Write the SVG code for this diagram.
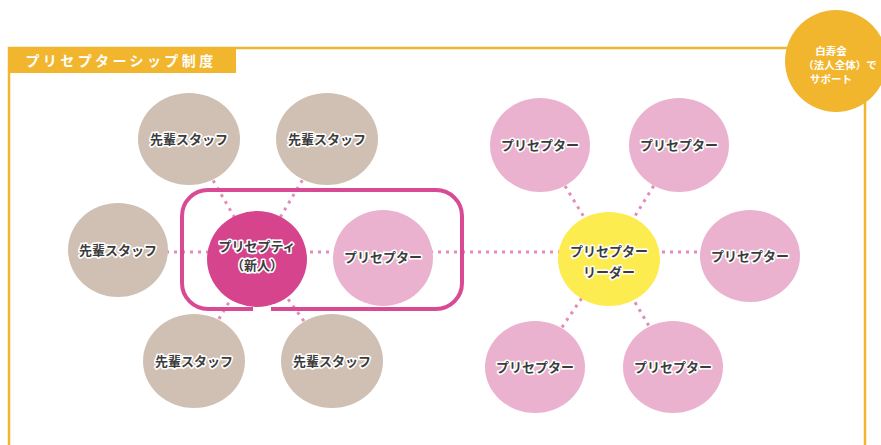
<svg xmlns="http://www.w3.org/2000/svg" width="881" height="445" viewBox="0 0 881 445">
<style>
.frame{fill:none;stroke:#F2B62E;stroke-width:2.5}
.conn{stroke:#E38BBC;stroke-width:3;stroke-dasharray:3 5;fill:none}
.senpai{fill:#CFC0B3}
.pre{fill:#EAB2CF}
.lbl{font-family:"Noto Sans CJK JP","Noto Sans",sans-serif;font-weight:bold;font-size:13px;fill:#3C3C3C;stroke:#FFFFFF;stroke-width:3.2;stroke-linejoin:round;paint-order:stroke;text-anchor:middle}
.wt{font-family:"Noto Sans CJK JP","Noto Sans",sans-serif;font-weight:bold;fill:#FFFFFF;text-anchor:middle}
.sup{font-size:10.5px}
</style>
<rect x="0" y="0" width="881" height="445" fill="#FFFFFF"/>
<g id="frame">
<path class="frame" d="M9,445 V48 H865 V445"/>
<rect x="8" y="47" width="228" height="26" fill="#F2B62E"/>
<text x="121" y="66" class="wt" font-size="14" letter-spacing="3.4">プリセプターシップ制度</text>
</g>
<g id="connectors">
<line class="conn" x1="118" y1="252" x2="750" y2="252"/>
<line class="conn" x1="189" y1="139" x2="257" y2="256"/>
<line class="conn" x1="327" y1="139" x2="257" y2="256"/>
<line class="conn" x1="194" y1="360" x2="257" y2="256"/>
<line class="conn" x1="332" y1="360" x2="257" y2="256"/>
<line class="conn" x1="540" y1="145" x2="609" y2="258"/>
<line class="conn" x1="679" y1="145" x2="609" y2="258"/>
<line class="conn" x1="535" y1="367" x2="609" y2="258"/>
<line class="conn" x1="673" y1="367" x2="609" y2="258"/>
</g>
<g id="team-box">
<rect x="182" y="190" width="280" height="119" rx="26" fill="none" stroke="#D84A94" stroke-width="4"/>
<rect x="253" y="306" width="18" height="6" fill="#FFFFFF"/>
</g>
<g id="senpai-1"><ellipse class="senpai" cx="189" cy="139" rx="51" ry="46"/><text class="lbl" x="189" y="144">先輩スタッフ</text></g>
<g id="senpai-2"><ellipse class="senpai" cx="327" cy="139" rx="51" ry="46"/><text class="lbl" x="327" y="144">先輩スタッフ</text></g>
<g id="senpai-3"><ellipse class="senpai" cx="118" cy="250" rx="50" ry="47"/><text class="lbl" x="118" y="255">先輩スタッフ</text></g>
<g id="senpai-4"><ellipse class="senpai" cx="194" cy="361" rx="51" ry="47"/><text class="lbl" x="194" y="366">先輩スタッフ</text></g>
<g id="senpai-5"><ellipse class="senpai" cx="332" cy="361" rx="51" ry="47"/><text class="lbl" x="332" y="366">先輩スタッフ</text></g>
<g id="preceptee"><ellipse cx="257" cy="259" rx="50" ry="48" fill="#D6448E"/><text class="lbl" x="257" y="251">プリセプティ</text><text class="lbl" x="257" y="270">（新人）</text></g>
<g id="preceptor-main"><ellipse class="pre" cx="383" cy="258" rx="50" ry="48"/><text class="lbl" x="383" y="262">プリセプター</text></g>
<g id="leader"><ellipse cx="609" cy="259" rx="51" ry="47" fill="#FDEC50"/><text class="lbl" x="609" y="256">プリセプター</text><text class="lbl" x="609" y="277">リーダー</text></g>
<g id="preceptor-1"><ellipse class="pre" cx="540" cy="145" rx="50" ry="47"/><text class="lbl" x="540" y="150">プリセプター</text></g>
<g id="preceptor-2"><ellipse class="pre" cx="679" cy="145" rx="50" ry="47"/><text class="lbl" x="679" y="150">プリセプター</text></g>
<g id="preceptor-3"><ellipse class="pre" cx="750" cy="256" rx="50" ry="46"/><text class="lbl" x="750" y="261">プリセプター</text></g>
<g id="preceptor-4"><ellipse class="pre" cx="535" cy="367" rx="50" ry="46"/><text class="lbl" x="535" y="372">プリセプター</text></g>
<g id="preceptor-5"><ellipse class="pre" cx="673" cy="367" rx="50" ry="46"/><text class="lbl" x="673" y="372">プリセプター</text></g>
<g id="support">
<circle cx="836" cy="61" r="51" fill="#F2B62E"/>
<text class="wt sup" x="831" y="55">白寿会</text>
<text class="wt sup" x="840" y="69">（法人全体）で</text>
<text class="wt sup" x="831" y="83">サポート</text>
</g>
</svg>
